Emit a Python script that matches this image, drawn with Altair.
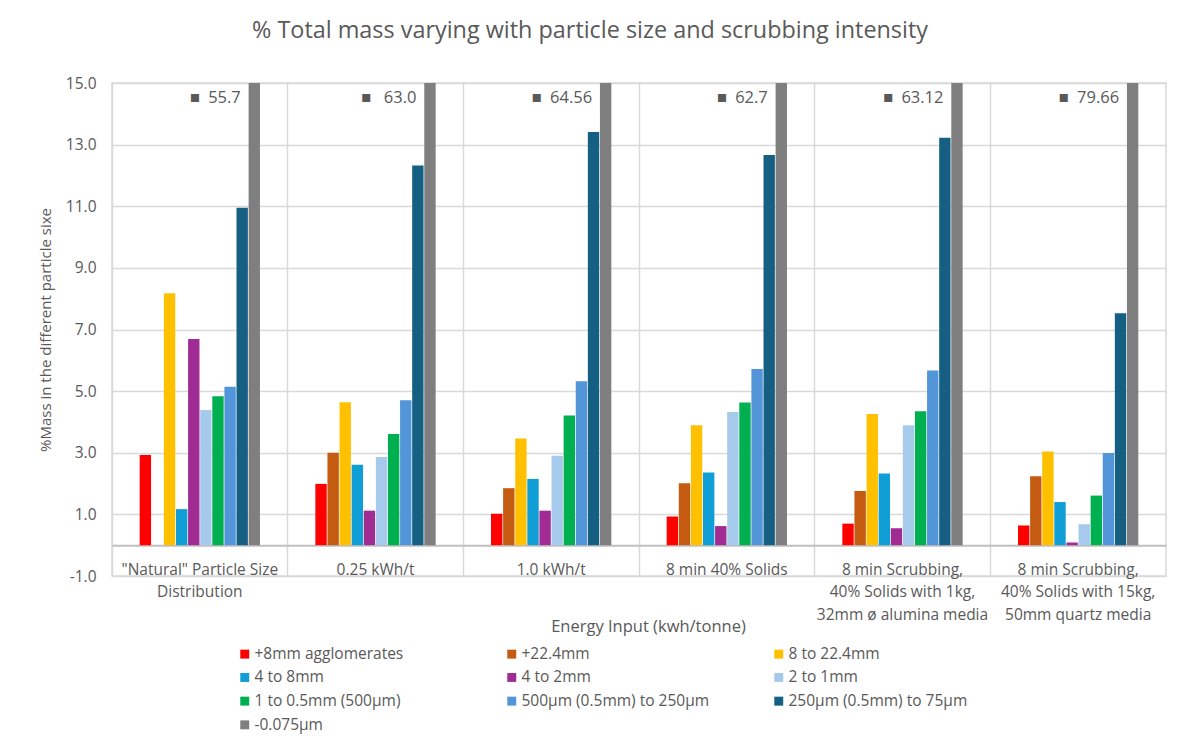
import altair as alt
import pandas as pd

categories = [
    '"Natural" Particle Size\nDistribution',
    "0.25 kWh/t",
    "1.0 kWh/t",
    "8 min 40% Solids",
    "8 min Scrubbing,\n40% Solids with 1kg,\n32mm ø alumina media",
    "8 min Scrubbing,\n40% Solids with 15kg,\n50mm quartz media",
]

series = [
    "+8mm agglomerates", "+22.4mm", "8 to 22.4mm",
    "4 to 8mm", "4 to 2mm", "2 to 1mm",
    "1 to 0.5mm (500µm)", "500µm (0.5mm) to 250µm", "250µm (0.5mm) to 75µm",
    "-0.075µm",
]

colors = ["#FF0000", "#C55A11", "#FFC000", "#0F9ED5", "#A02B93", "#A6CAEC",
          "#00B050", "#5395D9", "#156082", "#7F7F7F"]

agglomerates_8mm = [2.93, 1.99, 1.02, 0.93, 0.70, 0.64]
plus_22_4mm = [0.0, 3.00, 1.85, 2.01, 1.76, 2.24]
mm_8_to_22_4 = [8.18, 4.64, 3.46, 3.89, 4.26, 3.04]
mm_4_to_8 = [1.17, 2.61, 2.15, 2.36, 2.33, 1.40]
mm_4_to_2 = [6.69, 1.12, 1.12, 0.62, 0.55, 0.09]
mm_2_to_1 = [4.39, 2.86, 2.90, 4.32, 3.89, 0.68]
mm_1_to_0_5 = [4.83, 3.61, 4.21, 4.63, 4.35, 1.61]
um_500_to_250 = [5.14, 4.70, 5.32, 5.72, 5.67, 2.99]
um_250_to_75 = [10.95, 12.32, 13.41, 12.66, 13.22, 7.53]
minus_0_075 = [55.7, 63.0, 64.56, 62.7, 63.12, 79.66]
fines_labels = ["55.7", " 63.0", "64.56", "62.7", "63.12", "79.66"]

all_values = [agglomerates_8mm, plus_22_4mm, mm_8_to_22_4, mm_4_to_8, mm_4_to_2,
              mm_2_to_1, mm_1_to_0_5, um_500_to_250, um_250_to_75, minus_0_075]

rows = []
for s, vals in zip(series, all_values):
    for c, v in zip(categories, vals):
        rows.append({"category": c, "series": s, "value": v})
df = pd.DataFrame(rows)

lab = pd.DataFrame({"category": categories, "series": [series[-1]] * len(categories),
                    "keyed": ["■\u2002" + t for t in fines_labels]})

FONT = "Open Sans"
TXT = "#595959"
GRID = "#d9d9d9"

PI = 0.311
PO = PI / 2

x_enc = alt.X(
    "category:N", sort=categories,
    scale=alt.Scale(paddingInner=PI, paddingOuter=PO),
    axis=alt.Axis(
        title="Energy Input (kwh/tonne)", labelAngle=0,
        labelExpr="split(datum.label, '\\n')", labelLineHeight=22.5,
        labelPadding=17, labelOverlap=False, labelBound=False, labelLimit=300,
        offset=-30.8, domainColor="#bfbfbf", domainWidth=2, ticks=False,
        grid=True, bandPosition=-PO / (1 - PI), gridColor=GRID, gridWidth=1.5,
        labelFontSize=15.5, labelColor=TXT, labelFont=FONT,
        titleFontSize=16.5, titleColor=TXT, titleFont=FONT, titleFontWeight="normal",
        titleY=81, titleX=536, titleBaseline="middle",
    ),
)
xoff_enc = alt.XOffset("series:N", sort=series,
                       scale=alt.Scale(domain=series, paddingInner=0.06, paddingOuter=0.03))
y_scale = alt.Scale(domain=[-1, 15], nice=False, zero=True)

bars = alt.Chart(df).mark_bar(clip=True).encode(
    x=x_enc,
    xOffset=xoff_enc,
    y=alt.Y("value:Q", scale=y_scale, axis=alt.Axis(
        values=[-1, 1, 3, 5, 7, 9, 11, 13, 15], format=".1f",
        labelExpr="replace(datum.label, '\u2212', '-')",
        title="%Mass in the different particle sixe",
        domain=False, ticks=False, gridColor=GRID, gridWidth=1.5,
        labelPadding=16, labelFontSize=15.5, labelColor=TXT, labelFont=FONT,
        titleFontSize=15, titleColor=TXT, titleFont=FONT, titleFontWeight="normal",
        titleX=-67, titleBaseline="middle",
    )),
    color=alt.Color("series:N", sort=series,
                    scale=alt.Scale(domain=series, range=colors),
                    legend=alt.Legend(
                        title=None, orient="none", legendX=125, legendY=563,
                        direction="horizontal",
                        columns=3, gridAlign="all", columnPadding=61, rowPadding=6.7,
                        symbolType="square", symbolSize=80, symbolStrokeWidth=0,
                        labelFontSize=15.5, labelColor=TXT, labelFont=FONT,
                        labelOffset=2, labelLimit=300,
                    )),
)

texts = alt.Chart(lab).mark_text(align="right", baseline="middle", dx=-13.5, dy=14.7,
                                  fontSize=16.5, font=FONT, color=TXT).encode(
    x=alt.X("category:N", sort=categories),
    xOffset=alt.XOffset("series:N", sort=series),
    y=alt.datum(15),
    text="keyed:N",
)

chart = alt.layer(bars, texts).properties(
    width=1054, height=493,
    autosize=alt.AutoSizeParams(type="none"),
    padding={"left": 104, "top": 75, "right": 18, "bottom": 164},
    background="white",
    title=alt.TitleParams(
        text="% Total mass varying with particle size and scrubbing intensity",
        fontSize=23.4, font=FONT, color=TXT, fontWeight="normal",
        anchor="middle", dx=-49, offset=15, frame="group", baseline="alphabetic",
    ),
).configure_view(stroke=GRID, strokeWidth=1.5)

chart.save("out.html", embed_options={"renderer": "svg", "actions": False})
